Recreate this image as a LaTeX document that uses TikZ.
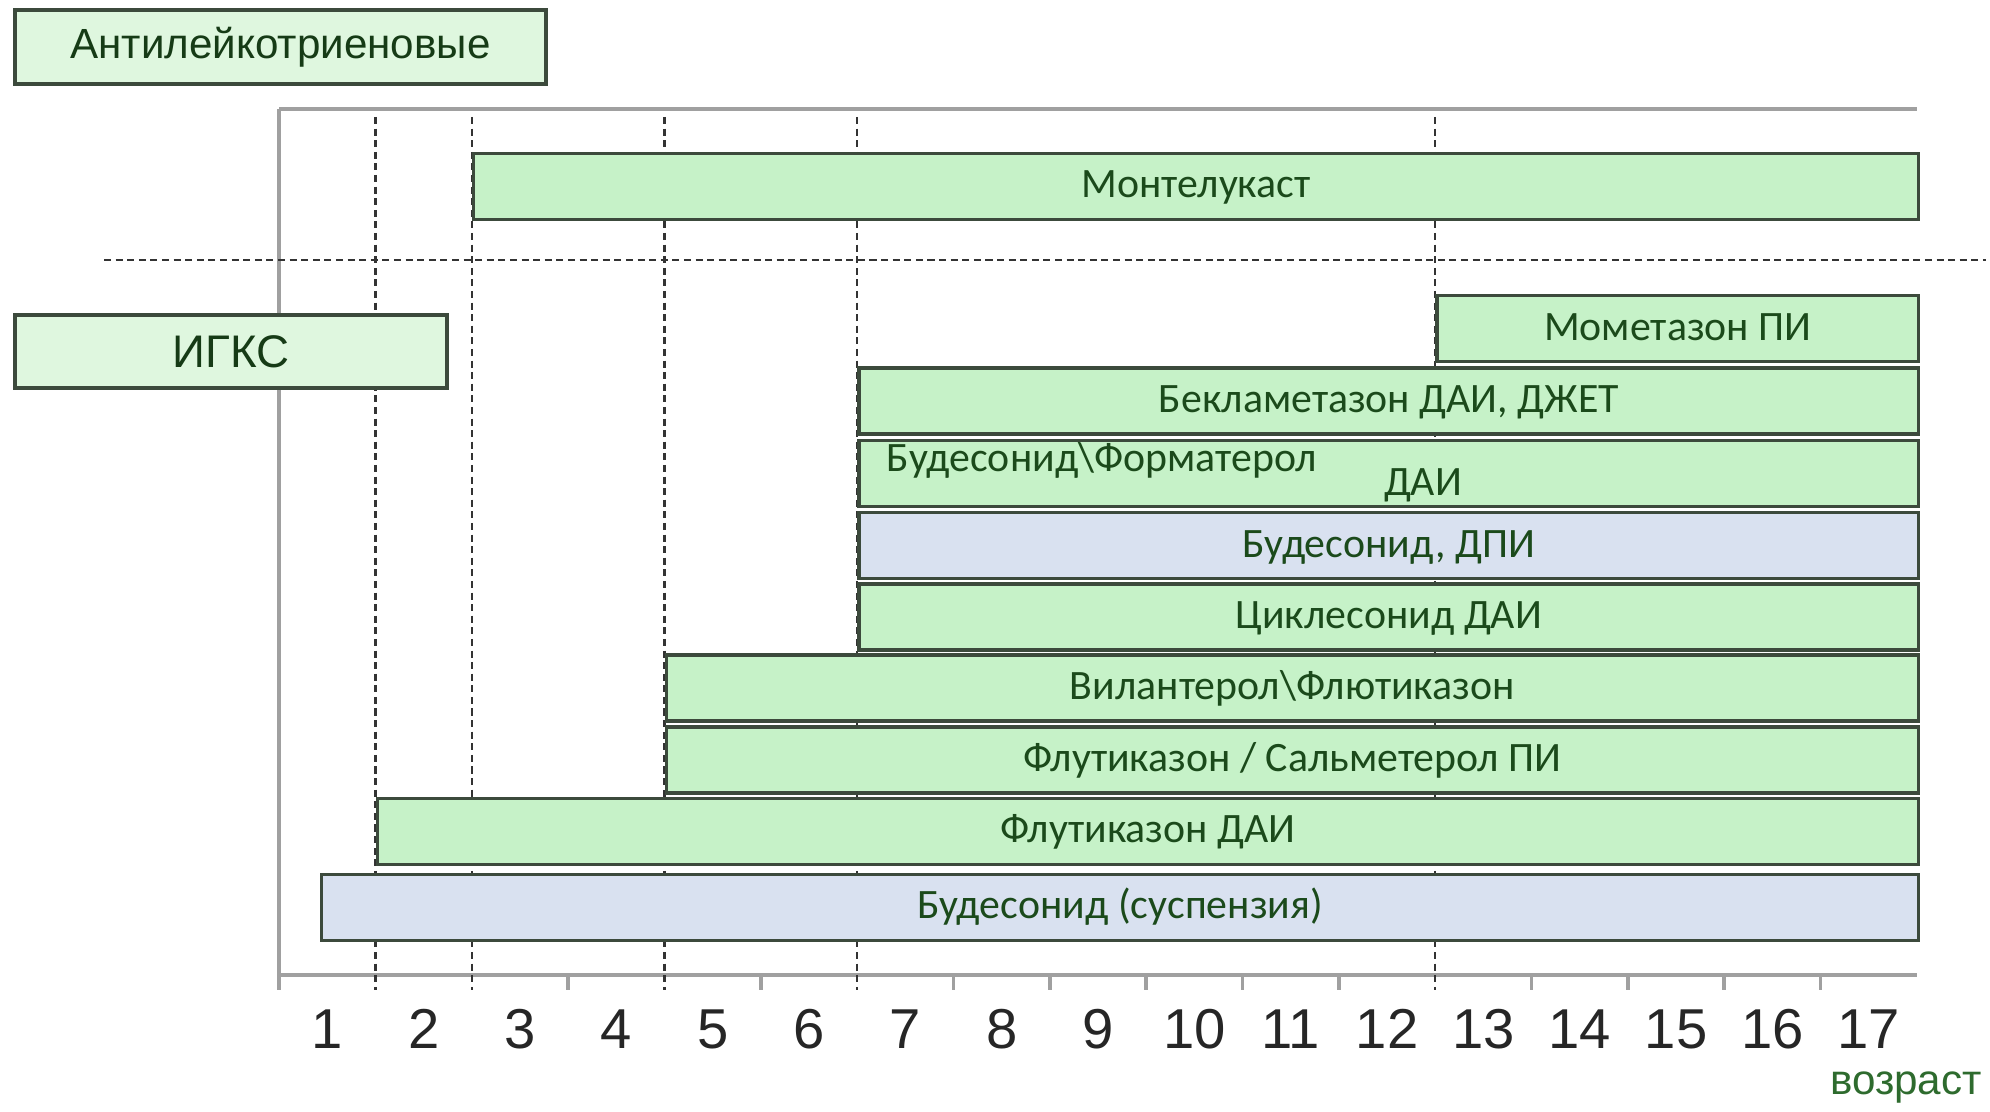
\documentclass[tikz,border=0pt]{standalone}
\usepackage{fontspec}
\setmainfont{Carlito}
\newfontfamily\arialfont{Liberation Sans}
\usepackage{tikz}
\usepackage{xcolor}

\definecolor{barGreen}{HTML}{C6F2C8}
\definecolor{barBlue}{HTML}{D9E1F0}
\definecolor{boxGreen}{HTML}{DFF7DF}
\definecolor{barEdge}{HTML}{3C4A3C}
\definecolor{barText}{HTML}{1B4A1B}
\definecolor{ageText}{HTML}{2E6B2E}
\definecolor{frameGray}{HTML}{A0A0A0}

\begin{document}
\begin{tikzpicture}[
  bartext/.style={inner sep=0pt, text=barText, font=\fontsize{11.9}{14}\selectfont, text height=0.644em, text depth=0pt},
  bar/.style={bartext, draw=barEdge, line width=1pt, fill=barGreen, anchor=west, minimum height=0.66cm},
  barblue/.style={bar, fill=barBlue},
  groupbox/.style={draw=barEdge, line width=1pt, fill=boxGreen, inner sep=0pt, text=barText!80!black},
  agelabel/.style={font=\arialfont\fontsize{16}{18}\selectfont, text=black!85},
  framelin/.style={line width=1pt, color=frameGray},
  guide/.style={dash pattern=on 2pt off 1.3pt, line width=0.6pt, color=black!80}
]
\useasboundingbox (0cm,0cm) rectangle (19.9cm,11.12cm);

% frame and axis
\draw [framelin] (2.792cm,10.03cm) -- (19.168cm,10.03cm);
\draw [framelin] (2.792cm,10.03cm) -- (2.792cm,1.22cm);
\draw [framelin] (2.792cm,1.37cm) -- (19.168cm,1.37cm);
\draw [framelin] (5.682cm,1.37cm) -- (5.682cm,1.22cm) (7.609cm,1.37cm) -- (7.609cm,1.22cm)
  (9.535cm,1.37cm) -- (9.535cm,1.22cm) (10.498cm,1.37cm) -- (10.498cm,1.22cm)
  (11.462cm,1.37cm) -- (11.462cm,1.22cm) (12.425cm,1.37cm) -- (12.425cm,1.22cm)
  (13.388cm,1.37cm) -- (13.388cm,1.22cm) (15.315cm,1.37cm) -- (15.315cm,1.22cm)
  (16.278cm,1.37cm) -- (16.278cm,1.22cm) (17.242cm,1.37cm) -- (17.242cm,1.22cm)
  (18.205cm,1.37cm) -- (18.205cm,1.22cm);

% age guides
\draw [guide] (3.755cm,9.95cm) -- (3.755cm,1.22cm);
\draw [guide] (4.718cm,9.95cm) -- (4.718cm,1.22cm);
\draw [guide] (6.645cm,9.95cm) -- (6.645cm,1.22cm);
\draw [guide] (8.572cm,9.95cm) -- (8.572cm,1.22cm);
\draw [guide] (14.352cm,9.95cm) -- (14.352cm,1.22cm);
\draw [guide] (1.04cm,8.52cm) -- (19.86cm,8.52cm);

% age labels
\node [agelabel] (n1) at (3.274cm,0.83cm) {1};
\node [agelabel] (n2) at (4.237cm,0.83cm) {2};
\node [agelabel] (n3) at (5.200cm,0.83cm) {3};
\node [agelabel] (n4) at (6.163cm,0.83cm) {4};
\node [agelabel] (n5) at (7.127cm,0.83cm) {5};
\node [agelabel] (n6) at (8.090cm,0.83cm) {6};
\node [agelabel] (n7) at (9.053cm,0.83cm) {7};
\node [agelabel] (n8) at (10.017cm,0.83cm) {8};
\node [agelabel] (n9) at (10.980cm,0.83cm) {9};
\node [agelabel] (n10) at (11.943cm,0.83cm) {10};
\node [agelabel] (n11) at (12.907cm,0.83cm) {11};
\node [agelabel] (n12) at (13.870cm,0.83cm) {12};
\node [agelabel] (n13) at (14.833cm,0.83cm) {13};
\node [agelabel] (n14) at (15.797cm,0.83cm) {14};
\node [agelabel] (n15) at (16.760cm,0.83cm) {15};
\node [agelabel] (n16) at (17.723cm,0.83cm) {16};
\node [agelabel] (n17) at (18.687cm,0.83cm) {17};
\node [font=\arialfont\fontsize{12}{14}\selectfont, text=ageText] (age) at (19.06cm,0.24cm) {возраст};

% group boxes
\node [groupbox, minimum width=5.31cm, minimum height=0.74cm, font=\arialfont\fontsize{12}{14}\selectfont] (antilt) at (2.805cm,10.65cm) {Антилейкотриеновые};
\node [groupbox, minimum width=4.32cm, minimum height=0.73cm, font=\arialfont\fontsize{13}{15}\selectfont] (igks) at (2.31cm,7.605cm) {ИГКС};

% drug bars
\node [bar, minimum width=14.45cm] (montel) at (4.718cm,9.254cm) {Монтелукаст};
\node [bar, minimum width=4.816cm] (mometa) at (14.352cm,7.833cm) {Мометазон ПИ};
\node [bar, minimum width=10.596cm] (beklam) at (8.572cm,7.11cm) {Бекламетазон ДАИ, ДЖЕТ};
\node [bar, minimum width=10.596cm] (budfor) at (8.572cm,6.386cm) {};
\node [bartext, anchor=west] (budforA) at ([xshift=0.29cm,yshift=0.13cm]budfor.west) {Будесонид\textbackslash Форматерол};
\node [bartext] (budforB) at (14.23cm,6.28cm) {ДАИ};
\node [barblue, minimum width=10.596cm] (buddpi) at (8.572cm,5.663cm) {Будесонид, ДПИ};
\node [bar, minimum width=10.596cm] (cikles) at (8.572cm,4.952cm) {Циклесонид ДАИ};
\node [bar, minimum width=12.523cm] (vilant) at (6.645cm,4.241cm) {Вилантерол\textbackslash Флютиказон};
\node [bar, minimum width=12.523cm] (flusal) at (6.645cm,3.518cm) {Флутиказон / Сальметерол ПИ};
\node [bar, minimum width=15.413cm] (fludai) at (3.755cm,2.807cm) {Флутиказон ДАИ};
\node [barblue, minimum width=15.97cm] (budsus) at (3.198cm,2.046cm) {Будесонид (суспензия)};

\end{tikzpicture}
\end{document}
